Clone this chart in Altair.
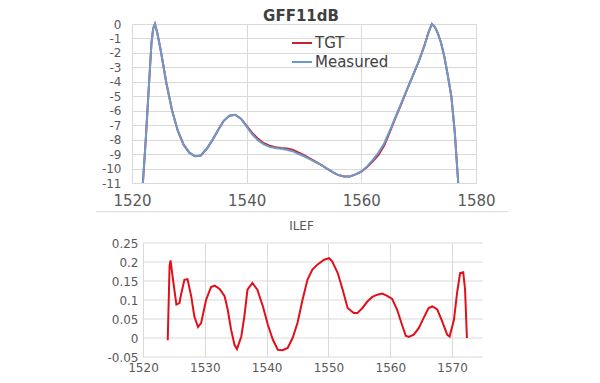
import altair as alt
import pandas as pd

# ---------------- data ----------------
wl = [1521.9, 1522.4, 1522.9, 1523.4, 1523.7, 1524.0, 1524.4, 1525.0, 1526.0, 1527.0,
      1528.0, 1529.0, 1530.0, 1531.0, 1532.0, 1533.0, 1534.0, 1535.0, 1536.0, 1537.0,
      1538.0, 1539.0, 1540.0, 1541.0, 1542.0, 1543.0, 1544.0, 1545.0, 1546.0, 1547.0,
      1548.0, 1549.0, 1550.0, 1551.0, 1552.0, 1553.0, 1554.0, 1555.0, 1556.0, 1557.0,
      1558.0, 1559.0, 1560.0, 1561.0, 1562.0, 1563.0, 1564.0, 1565.0, 1566.0, 1567.0,
      1568.0, 1569.0, 1570.0, 1571.0, 1571.7, 1572.3, 1572.8, 1573.3, 1573.9, 1574.5,
      1575.1, 1575.7, 1576.3, 1576.9]

measured = [-11.0, -8.0, -4.6, -1.3, -0.3, 0.0, -0.6, -1.8, -4.1, -6.0,
            -7.4, -8.35, -8.9, -9.15, -9.1, -8.65, -8.05, -7.35, -6.7, -6.35,
            -6.28, -6.55, -7.1, -7.65, -8.05, -8.33, -8.5, -8.58, -8.63, -8.7,
            -8.8, -8.98, -9.15, -9.35, -9.55, -9.75, -10.0, -10.25, -10.45, -10.55,
            -10.55, -10.4, -10.2, -9.85, -9.4, -8.9, -8.25, -7.35, -6.4, -5.45,
            -4.5, -3.55, -2.6, -1.5, -0.6, 0.0, -0.2, -0.6, -1.3, -2.3,
            -3.6, -5.0, -7.5, -11.0]

tgt = [-11.0, -8.0, -4.6, -1.3, -0.3, 0.0, -0.6, -1.8, -4.1, -6.0,
       -7.4, -8.35, -8.9, -9.15, -9.1, -8.65, -8.05, -7.35, -6.7, -6.35,
       -6.28, -6.55, -7.05, -7.55, -7.95, -8.25, -8.42, -8.52, -8.58, -8.62,
       -8.7, -8.88, -9.08, -9.3, -9.52, -9.75, -10.0, -10.25, -10.45, -10.55,
       -10.55, -10.4, -10.22, -9.9, -9.5, -9.05, -8.4, -7.45, -6.45, -5.5,
       -4.5, -3.55, -2.6, -1.5, -0.6, 0.0, -0.2, -0.6, -1.3, -2.3,
       -3.6, -5.0, -7.5, -11.0]

ilef_wl = [1524.0, 1524.3, 1524.46, 1524.8, 1525.4, 1525.9, 1526.2, 1526.7, 1527.2, 1527.8,
           1528.3, 1528.9, 1529.4, 1530.2, 1531.0, 1531.6, 1532.4, 1533.2, 1533.7, 1534.25,
           1534.8, 1535.2, 1535.9, 1536.4, 1536.9, 1537.7, 1538.5, 1539.4, 1540.2, 1541.0,
           1541.8, 1542.6, 1543.4, 1544.2, 1545.0, 1545.8, 1546.6, 1547.4, 1548.2, 1549.3,
           1550.1, 1550.6, 1551.5, 1552.3, 1553.1, 1554.1, 1554.7, 1555.5, 1556.3, 1557.1,
           1557.9, 1558.7, 1559.5, 1560.3, 1561.1, 1561.9, 1562.5, 1563.0, 1563.8, 1564.6,
           1565.4, 1566.2, 1566.8, 1567.6, 1568.4, 1569.2, 1569.6, 1570.3, 1570.8, 1571.3,
           1571.8, 1572.1, 1572.4]

ilef_val = [-0.006, 0.19, 0.204, 0.16, 0.088, 0.092, 0.118, 0.153, 0.155, 0.11,
            0.057, 0.029, 0.039, 0.10, 0.134, 0.138, 0.129, 0.11, 0.075, 0.022,
            -0.018, -0.029, 0.004, 0.057, 0.127, 0.145, 0.127, 0.083, 0.035, -0.004,
            -0.031, -0.032, -0.026, 0.0, 0.04, 0.10, 0.153, 0.18, 0.193, 0.206,
            0.21, 0.202, 0.171, 0.127, 0.079, 0.066, 0.066, 0.079, 0.096, 0.108,
            0.114, 0.117, 0.111, 0.103, 0.075, 0.035, 0.006, 0.003, 0.009, 0.026,
            0.053, 0.079, 0.083, 0.075, 0.044, 0.009, 0.004, 0.048, 0.118, 0.171,
            0.173, 0.127, 0.0]

series_names = ["TGT", "Measured"]
series_colors = ["#C8232C", "#6A9BCC"]
ilef_color = "#E0101A"

top_x_ticks = [1520, 1540, 1560, 1580]
top_y_ticks = [0, -1, -2, -3, -4, -5, -6, -7, -8, -9, -10, -11]
bot_x_ticks = [1520, 1530, 1540, 1550, 1560, 1570]
bot_y_ticks = [-0.05, 0, 0.05, 0.1, 0.15, 0.2, 0.25]

FONT = "DejaVu Sans"
GRID = "#d9d9d9"
LABEL = "#595959"

# ---------------- top chart ----------------
top_df = pd.DataFrame({
    "wl": wl + wl,
    "val": tgt + measured,
    "series": [series_names[0]] * len(wl) + [series_names[1]] * len(wl),
})

color = alt.Color(
    "series:N",
    scale=alt.Scale(domain=series_names, range=series_colors),
    legend=alt.Legend(
        title=None, orient="none", legendX=159, legendY=8,
        symbolType="stroke", symbolSize=400, symbolStrokeWidth=2,
        labelFont=FONT, labelFontSize=15, labelColor="#404040",
        labelOffset=2, rowPadding=0, padding=0,
    ),
)

x_top = alt.X(
    "wl:Q",
    scale=alt.Scale(domain=[1520, 1580], nice=False, zero=False),
    axis=alt.Axis(values=top_x_ticks, title=None, grid=True, gridColor=GRID,
                  domain=False, ticks=False, labelFont=FONT, labelFontSize=15,
                  labelColor=LABEL, labelPadding=10, labelFlush=False,
                  labelExpr="'' + datum.value"),
)
y_top = alt.Y(
    "val:Q",
    scale=alt.Scale(domain=[-11, 0], nice=False, zero=False),
    axis=alt.Axis(values=top_y_ticks, title=None, grid=True, gridColor=GRID,
                  domain=False, ticks=False, labelFont=FONT, labelFontSize=12,
                  labelColor=LABEL, labelPadding=11,
                  labelExpr="'' + datum.value"),
)

base_top = alt.Chart(top_df)
tgt_line = base_top.transform_filter(alt.datum.series == "TGT").mark_line(
    strokeWidth=2).encode(x=x_top, y=y_top, color=color, order="wl:Q")
meas_line = base_top.transform_filter(alt.datum.series == "Measured").mark_line(
    strokeWidth=2).encode(x=x_top, y=y_top, color=color, order="wl:Q")

separator = alt.Chart(pd.DataFrame({"k": [0]})).mark_rule(
    color=GRID, strokeWidth=1).encode(
    x=alt.value(-36), x2=alt.value(376), y=alt.value(187.7))

top = alt.layer(tgt_line, meas_line, separator).properties(
    width=344, height=159,
    title=alt.TitleParams("GFF11dB", font=FONT, fontSize=15, fontWeight="bold",
                          color="#404040", anchor="middle", offset=-6, dx=-3),
)

# ---------------- bottom chart ----------------
BOT_LEFT = 11      # the lower plot starts a little to the right of the upper one
BOT_W = 351

bot_df = pd.DataFrame({"wl": ilef_wl, "val": ilef_val})
grid_df = pd.DataFrame({"val": bot_y_ticks})

x_bot = alt.X("wl:Q",
              scale=alt.Scale(domain=[1520, 1575], range=[BOT_LEFT, BOT_W],
                              nice=False, zero=False),
              axis=alt.Axis(values=bot_x_ticks, title=None, grid=True, gridColor=GRID,
                            domain=False, ticks=False, labelFont=FONT, labelFontSize=12,
                            labelColor=LABEL, labelPadding=5, labelFlush=False,
                            labelExpr="'' + datum.value"))
y_bot = alt.Y("val:Q",
              scale=alt.Scale(domain=[-0.05, 0.25], nice=False, zero=False),
              axis=alt.Axis(values=bot_y_ticks, title=None, grid=False,
                            domain=False, ticks=False, labelFont=FONT, labelFontSize=12,
                            labelColor=LABEL, labelPadding=5, offset=-BOT_LEFT,
                            labelExpr="'' + datum.value"))

hgrid = alt.Chart(grid_df).mark_rule(color=GRID, strokeWidth=1).encode(
    x=alt.value(BOT_LEFT), x2=alt.value(BOT_W), y=y_bot)

ilef_line = alt.Chart(bot_df).mark_line(strokeWidth=2, color=ilef_color).encode(
    x=x_bot, y=y_bot, order="wl:Q")

bottom = alt.layer(hgrid, ilef_line).properties(
    width=BOT_W, height=114,
    title=alt.TitleParams("ILEF", font=FONT, fontSize=12, fontWeight="normal",
                          color=LABEL, anchor="middle", offset=4, dx=-6),
)

chart = alt.concat(top, bottom, columns=1, spacing=7).properties(
    padding={"left": 87, "top": 1, "right": 0, "bottom": 0},
    background="white",
).configure_view(stroke=None)

chart.save("out.html", embed_options={"renderer": "svg", "actions": False})
